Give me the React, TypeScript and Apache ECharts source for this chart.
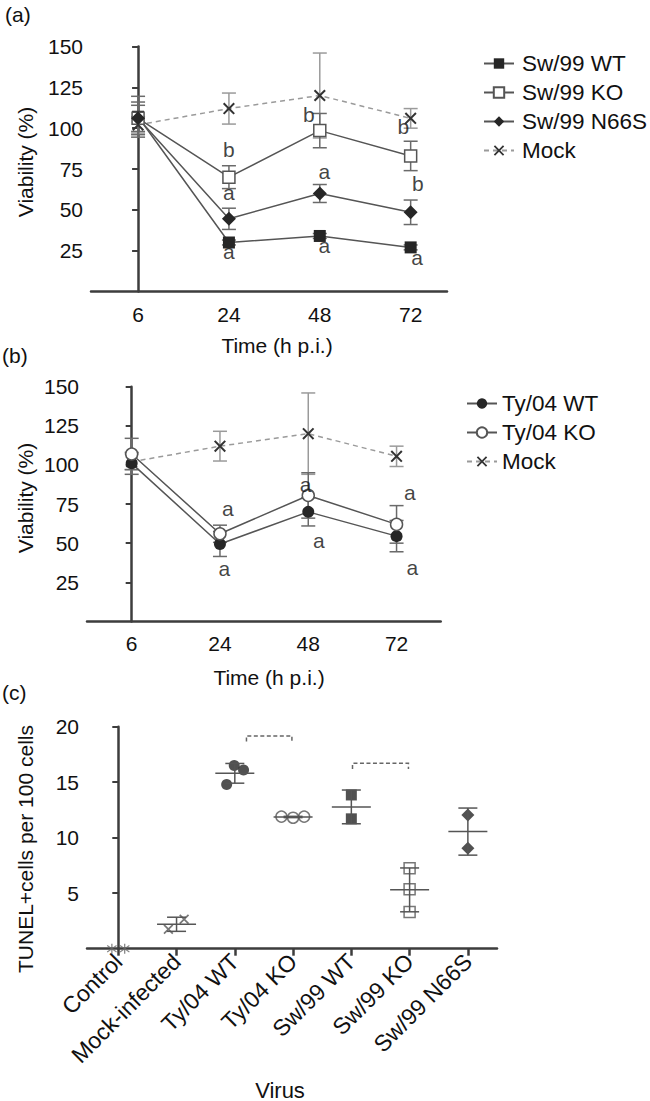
import React, { useEffect, useRef } from 'react';
import * as echarts from 'echarts';

// ---------- data ----------
const timeLabels = ['6', '24', '48', '72'];
const timeIdx = [0, 1, 2, 3];

// panel (a)
const swWT = [107, 30, 34, 27];
const swWTErr = [12.5, 1.5, 1.5, 1.5];
const swKO = [106, 70, 98.5, 83];
const swKOErr = [8, 7, 10.5, 9];
const swN66S = [106, 44.5, 60, 48.5];
const swN66SErr = [10, 6.5, 5.5, 7.5];
const mockA = [102, 112, 120, 106];
const mockAErr = [5, 9.5, 26, 6];
const lettersA = ['b', 'a', 'a', 'b', 'a', 'a', 'b', 'b', 'a'];
const lettersAX = [1.0, 1.0, 1.0, 1.88, 2.05, 2.05, 2.92, 3.08, 3.07];
const lettersAY = [86.7, 60.4, 24.2, 108.1, 73.2, 27.9, 100.8, 65.9, 20.6];

// panel (b)
const tyWT = [101, 49.5, 70, 54.5];
const tyWTErr = [7, 8, 9, 10];
const tyKO = [107, 56, 80.5, 62];
const tyKOErr = [10, 5.5, 14.5, 12];
const mockB = [102, 112, 120, 105.5];
const mockBErr = [5, 9.5, 26, 6.5];
const lettersB = ['a', 'a', 'a', 'a', 'a', 'a'];
const lettersBX = [1.09, 1.05, 1.97, 2.12, 3.15, 3.18];
const lettersBY = [72.3, 34.1, 87.8, 52.0, 82.5, 34.5];

// panel (c)
const virusCats = ['Control', 'Mock-infected', 'Ty/04 WT', 'Ty/04 KO', 'Sw/99 WT', 'Sw/99 KO', 'Sw/99 N66S'];
const ctrlVals = [0, 0];
const ctrlOff = [-0.11, 0.11];
const mockVals = [1.75, 2.65];
const mockOff = [-0.14, 0.13];
const tyWTVals = [14.8, 16.5, 16.1];
const tyWTOff = [-0.14, -0.01, 0.15];
const tyKOVals = [11.9, 11.8, 11.9];
const tyKOOff = [-0.2, 0, 0.19];
const swWTVals = [13.85, 11.7];
const swWTOff = [0, 0];
const swKOVals = [7.25, 5.35, 3.3];
const swKOOff = [0, 0, 0];
const swN66Vals = [12.05, 9.05];
const swN66Off = [0, 0];
// significance brackets: [x1, x2, top, legBottom]
const brackets = [
  [2.2, 2.98, 19.17, 18.66],
  [4.02, 4.98, 16.7, 16.2],
];

// ---------- helpers ----------
const FONT = 'Liberation Sans, Arial, Helvetica, sans-serif';
const FS = 21;
const TXT = '#111111';
const AX = '#3d3d3d';
const LINE = '#555555';
const ERR = '#6a6a6a';
const MOCK = '#9a9a9a';
const xPath = 'path://M0,1.2L1.2,0L5,3.8L8.8,0L10,1.2L6.2,5L10,8.8L8.8,10L5,6.2L1.2,10L0,8.8L3.8,5Z';
const starPath = 'path://M4.4,0H5.6V10H4.4Z M0.3,2.2L0.9,1.2L9.7,7.8L9.1,8.8Z M9.1,1.2L9.7,2.2L0.9,8.8L0.3,7.8Z';

const pts = (vals: number[]) => vals.map((v, i) => [timeIdx[i], v]);
const errs = (vals: number[], e: number[]) => vals.map((v, i) => [timeIdx[i], v - e[i], v + e[i]]);
const jit = (catIdx: number, vals: number[], off: number[]) => vals.map((v, i) => [catIdx + off[i], v]);
const mean = (a: number[]) => a.reduce((s, v) => s + v, 0) / a.length;
const sd = (a: number[]) => {
  const m = mean(a);
  return Math.sqrt(a.reduce((s, v) => s + (v - m) * (v - m), 0) / (a.length - 1));
};

const errRender = (capHalf: number, color: string) => (params: any, api: any) => {
  const x = api.value(0);
  const a = api.coord([x, api.value(1)]);
  const b = api.coord([x, api.value(2)]);
  const style = { stroke: color, lineWidth: 1.5 };
  return {
    type: 'group',
    children: [
      { type: 'line', shape: { x1: a[0], y1: a[1], x2: b[0], y2: b[1] }, style },
      { type: 'line', shape: { x1: a[0] - capHalf, y1: a[1], x2: a[0] + capHalf, y2: a[1] }, style },
      { type: 'line', shape: { x1: b[0] - capHalf, y1: b[1], x2: b[0] + capHalf, y2: b[1] }, style },
    ],
  };
};

const errSeries = (idx: number, data: number[][], color: string) => ({
  type: 'custom',
  xAxisIndex: idx,
  yAxisIndex: idx,
  renderItem: errRender(7, color),
  encode: { x: 0, y: [1, 2] },
  data,
  z: 1,
  silent: true,
});

const lineSeries = (idx: number, name: string, data: number[][], symbol: string, size: number, itemStyle: any, dashed = false) => ({
  type: 'line',
  name,
  xAxisIndex: idx,
  yAxisIndex: idx,
  data,
  symbol,
  symbolSize: size,
  itemStyle,
  lineStyle: dashed ? { color: MOCK, width: 1.5, type: [5, 4] } : { color: LINE, width: 1.5 },
  z: 2,
  silent: true,
});

const letterSeries = (idx: number, letters: string[], xs: number[], ys: number[]) => ({
  type: 'scatter',
  xAxisIndex: idx,
  yAxisIndex: idx,
  symbolSize: 1,
  itemStyle: { color: 'rgba(0,0,0,0)' },
  label: { show: true, position: 'inside', formatter: '{b}', fontSize: FS, fontFamily: FONT, color: TXT },
  data: letters.map((l, i) => ({ name: l, value: [xs[i], ys[i]] })),
  z: 5,
  silent: true,
});

const filled = { color: '#262626' };
const open = { color: '#ffffff', borderColor: LINE, borderWidth: 1.5 };
const mockStyle = { color: '#333333' };

const timeXAxis = (idx: number, min: number, max: number) => ({
  type: 'value',
  gridIndex: idx,
  min,
  max,
  axisLine: { show: true, lineStyle: { color: AX, width: 2.5 } },
  axisTick: { show: false },
  splitLine: { show: false },
  axisLabel: {
    customValues: timeIdx,
    formatter: (v: number) => timeLabels[Math.round(v)],
    fontSize: FS,
    fontFamily: FONT,
    color: TXT,
    margin: 12,
  },
});

const valYAxis = (idx: number, max: number, interval: number) => ({
  type: 'value',
  gridIndex: idx,
  min: 0,
  max,
  interval,
  axisLine: { show: true, lineStyle: { color: AX, width: 2.5 } },
  axisTick: { show: true, length: 6, lineStyle: { color: AX, width: 2 } },
  splitLine: { show: false },
  axisLabel: { showMinLabel: false, fontSize: FS, fontFamily: FONT, color: TXT, margin: 8 },
});

const meanRender = (params: any, api: any) => {
  const x = api.value(0);
  const m = api.coord([x, api.value(1)]);
  const lo = api.coord([x, api.value(2)]);
  const hi = api.coord([x, api.value(3)]);
  const style = { stroke: LINE, lineWidth: 1.5 };
  return {
    type: 'group',
    children: [
      { type: 'line', shape: { x1: m[0] - 19.5, y1: m[1], x2: m[0] + 19.5, y2: m[1] }, style },
      { type: 'line', shape: { x1: lo[0], y1: lo[1], x2: hi[0], y2: hi[1] }, style },
      { type: 'line', shape: { x1: lo[0] - 9.5, y1: lo[1], x2: lo[0] + 9.5, y2: lo[1] }, style },
      { type: 'line', shape: { x1: hi[0] - 9.5, y1: hi[1], x2: hi[0] + 9.5, y2: hi[1] }, style },
    ],
  };
};

const bracketRender = (params: any, api: any) => {
  const a = api.coord([api.value(0), api.value(3)]);
  const b = api.coord([api.value(0), api.value(2)]);
  const c = api.coord([api.value(1), api.value(2)]);
  const d = api.coord([api.value(1), api.value(3)]);
  return {
    type: 'polyline',
    shape: { points: [a, b, c, d] },
    style: { stroke: '#666', lineWidth: 1.5, fill: 'none', lineDash: [4, 2.5] },
  };
};

const groups = [
  { vals: mockVals, idx: 1 },
  { vals: tyWTVals, idx: 2 },
  { vals: tyKOVals, idx: 3 },
  { vals: swWTVals, idx: 4 },
  { vals: swKOVals, idx: 5 },
  { vals: swN66Vals, idx: 6 },
];
const meanData = groups.map((g) => {
  const m = mean(g.vals);
  const s = sd(g.vals);
  return [g.idx, m, m - s, m + s];
});

const scatterC = (data: number[][], symbol: string, size: number, itemStyle: any) => ({
  type: 'scatter',
  xAxisIndex: 2,
  yAxisIndex: 2,
  data,
  symbol,
  symbolSize: size,
  itemStyle,
  z: 2,
  silent: true,
});

const textStyle = (text: string, size = FS) => ({ text, fontSize: size, fontFamily: FONT, fill: TXT });

const option: any = {
  animation: false,
  backgroundColor: '#ffffff',
  grid: [
    { left: 91, top: 46.5, width: 356, height: 245 },
    { left: 87, top: 386.7, width: 353.7, height: 234.7 },
    { left: 87, top: 726.7, width: 410, height: 222 },
  ],
  xAxis: [
    timeXAxis(0, -0.518, 3.4),
    timeXAxis(1, -0.506, 3.5),
    {
      type: 'value',
      gridIndex: 2,
      min: -0.537,
      max: 6.5,
      axisLine: { show: true, lineStyle: { color: AX, width: 2.5 } },
      axisTick: { show: true, customValues: [0, 1, 2, 3, 4, 5, 6], length: 7, lineStyle: { color: AX, width: 2.5 } },
      splitLine: { show: false },
      axisLabel: {
        customValues: [0, 1, 2, 3, 4, 5, 6],
        formatter: (v: number) => virusCats[Math.round(v)],
        rotate: 45,
        fontSize: 23,
        fontFamily: FONT,
        color: TXT,
        margin: 9,
      },
    },
  ],
  yAxis: [valYAxis(0, 150, 25), valYAxis(1, 150, 25), valYAxis(2, 20, 5)],
  legend: [
    {
      orient: 'vertical',
      left: 478,
      top: 47,
      itemWidth: 30,
      itemHeight: 13,
      itemGap: 6,
      selectedMode: false,
      textStyle: { fontSize: 22.5, fontFamily: FONT, color: TXT, lineHeight: 22, padding: [0, 0, 0, 3] },
      data: ['Sw/99 WT', 'Sw/99 KO', 'Sw/99 N66S', 'Mock'],
    },
    {
      orient: 'vertical',
      left: 461,
      top: 387,
      itemWidth: 30,
      itemHeight: 13,
      itemGap: 6,
      selectedMode: false,
      textStyle: { fontSize: 22.5, fontFamily: FONT, color: TXT, lineHeight: 22, padding: [0, 0, 0, 0] },
      data: ['Ty/04 WT', 'Ty/04 KO', 'Mock'],
    },
  ],
  graphic: [
    { type: 'text', x: 5, y: 14, style: { ...textStyle('(a)'), verticalAlign: 'middle' } },
    { type: 'text', x: 2, y: 355, style: { ...textStyle('(b)'), verticalAlign: 'middle' } },
    { type: 'text', x: 2, y: 692, style: { ...textStyle('(c)'), verticalAlign: 'middle' } },
    { type: 'text', x: 277, y: 345, style: { ...textStyle('Time (h p.i.)'), align: 'center', verticalAlign: 'middle' } },
    { type: 'text', x: 269, y: 677, style: { ...textStyle('Time (h p.i.)'), align: 'center', verticalAlign: 'middle' } },
    { type: 'text', x: 280, y: 1090, style: { ...textStyle('Virus', 22), align: 'center', verticalAlign: 'middle' } },
    { type: 'text', x: 25, y: 162, rotation: Math.PI / 2, style: { ...textStyle('Viability (%)'), align: 'center', verticalAlign: 'middle' } },
    { type: 'text', x: 25, y: 498, rotation: Math.PI / 2, style: { ...textStyle('Viability (%)'), align: 'center', verticalAlign: 'middle' } },
    { type: 'text', x: 25, y: 849, rotation: Math.PI / 2, style: { ...textStyle('TUNEL+cells per 100 cells'), align: 'center', verticalAlign: 'middle' } },
  ],
  series: [
    // panel a
    errSeries(0, errs(mockA, mockAErr), MOCK),
    errSeries(0, errs(swWT, swWTErr), ERR),
    errSeries(0, errs(swKO, swKOErr), ERR),
    errSeries(0, errs(swN66S, swN66SErr), ERR),
    lineSeries(0, 'Mock', pts(mockA), xPath, 12, mockStyle, true),
    lineSeries(0, 'Sw/99 WT', pts(swWT), 'rect', 12, filled),
    lineSeries(0, 'Sw/99 KO', pts(swKO), 'rect', 12, open),
    lineSeries(0, 'Sw/99 N66S', pts(swN66S), 'diamond', 14, filled),
    letterSeries(0, lettersA, lettersAX, lettersAY),
    // panel b
    errSeries(1, errs(mockB, mockBErr), MOCK),
    errSeries(1, errs(tyWT, tyWTErr), ERR),
    errSeries(1, errs(tyKO, tyKOErr), ERR),
    lineSeries(1, 'Mock', pts(mockB), xPath, 12, mockStyle, true),
    lineSeries(1, 'Ty/04 WT', pts(tyWT), 'circle', 12, filled),
    lineSeries(1, 'Ty/04 KO', pts(tyKO), 'circle', 12, open),
    letterSeries(1, lettersB, lettersBX, lettersBY),
    // panel c
    scatterC(jit(0, ctrlVals, ctrlOff), starPath, 10, { color: '#666' }),
    scatterC(jit(1, mockVals, mockOff), xPath, 10, { color: '#555' }),
    scatterC(jit(2, tyWTVals, tyWTOff), 'circle', 11, filled),
    scatterC(jit(3, tyKOVals, tyKOOff), 'circle', 11, { color: 'rgba(255,255,255,0)', borderColor: LINE, borderWidth: 1.5 }),
    scatterC(jit(4, swWTVals, swWTOff), 'rect', 11, filled),
    scatterC(jit(5, swKOVals, swKOOff), 'rect', 11, { color: 'rgba(255,255,255,0)', borderColor: LINE, borderWidth: 1.5 }),
    scatterC(jit(6, swN66Vals, swN66Off), 'diamond', 13, filled),
    {
      type: 'custom',
      xAxisIndex: 2,
      yAxisIndex: 2,
      renderItem: meanRender,
      encode: { x: 0, y: [1, 2, 3] },
      data: meanData,
      z: 3,
      silent: true,
    },
    {
      type: 'custom',
      xAxisIndex: 2,
      yAxisIndex: 2,
      renderItem: bracketRender,
      encode: { x: [0, 1], y: [2, 3] },
      data: brackets,
      z: 3,
      silent: true,
    },
  ],
};

export default function App() {
  const ref = useRef<HTMLDivElement>(null);
  useEffect(() => {
    document.body.style.margin = '0';
    const chart = echarts.init(ref.current!, null, { renderer: 'svg' });
    chart.setOption(option);
    return () => chart.dispose();
  }, []);
  return <div ref={ref} style={{ width: 650, height: 1101 }} />;
}
